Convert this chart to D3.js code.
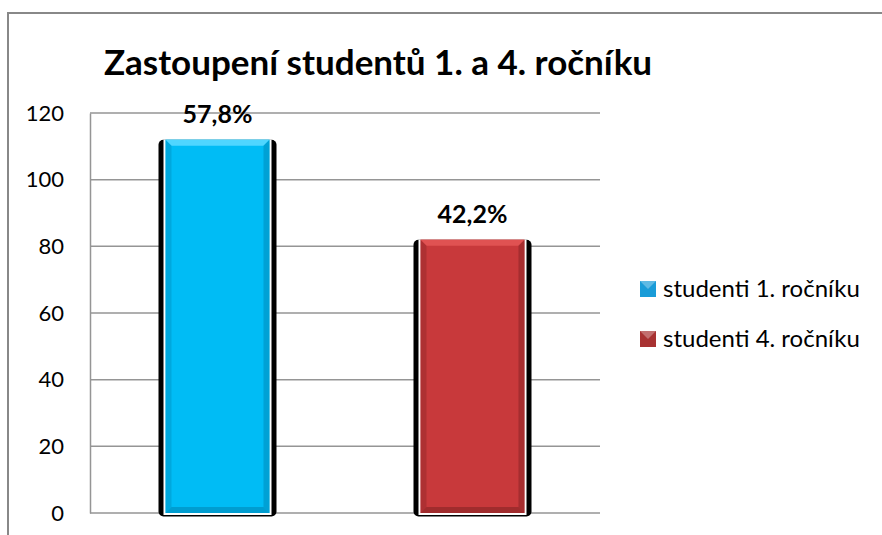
<!DOCTYPE html>
<html><head><meta charset="utf-8">
<script src="https://cdn.jsdelivr.net/npm/d3@7"></script>
<style>body{margin:0;background:#fff}svg{display:block}</style>
</head><body>
<script>
const categories = ["studenti 1. ročníku", "studenti 4. ročníku"];
const values = [112, 82];
const labels = ["57,8%", "42,2%"];
const yTicks = [0, 20, 40, 60, 80, 100, 120];
const colors = ["#00BCF5", "#C8393B"];
const topColors = ["#4FD6FF", "#E05252"];
const darkColors = ["#0090C0", "#8E2628"];
const legendColors = ["#1A9CD8", "#A83232"];

const W = 882, H = 535;
const font = "Lato, 'Open Sans', sans-serif";
const svg = d3.select("body").append("svg").attr("width", W).attr("height", H);

// outer frame
svg.append("rect").attr("x", 8).attr("y", 13).attr("width", W + 20).attr("height", H + 20)
  .attr("fill", "#fff").attr("stroke", "#888").attr("stroke-width", 2);

const plot = {l: 90, r: 600, t: 113, b: 513};
const x = d3.scaleBand().domain(categories).range([plot.l, plot.r]);
const y = d3.scaleLinear().domain([0, 120]).range([plot.b, plot.t]);

// gridlines
svg.append("g").selectAll("line").data(yTicks).join("line")
  .attr("x1", plot.l).attr("x2", plot.r)
  .attr("y1", d => y(d)).attr("y2", d => y(d))
  .attr("stroke", "#959595").attr("stroke-width", 1.5);

// y axis
const yAxis = d3.axisLeft(y).tickValues(yTicks).tickSize(0).tickPadding(26);
const ga = svg.append("g").attr("transform", `translate(${plot.l},0)`).call(yAxis);
ga.select(".domain").attr("stroke", "#959595").attr("stroke-width", 1.5);
ga.selectAll("text").attr("font-family", font).attr("font-size", 22).attr("fill", "#000");

// bars
const bw = 104, bev = 6;
const g = svg.append("g");
categories.forEach((c, i) => {
  const cx = x(c) + x.bandwidth() / 2;
  const x0 = cx - bw / 2, x1 = cx + bw / 2;
  const y0 = y(values[i]), y1 = y(0);
  g.append("rect").attr("x", x0 - 7).attr("y", y0).attr("width", bw + 14).attr("height", y1 - y0 + 3.5)
    .attr("rx", 5).attr("fill", "#000");
  g.append("rect").attr("x", x0 - 2).attr("y", y0).attr("width", bw + 4).attr("height", y1 - y0 + 2)
    .attr("fill", "#fff");
  g.append("rect").attr("x", x0).attr("y", y0).attr("width", bw).attr("height", y1 - y0)
    .attr("fill", colors[i]);
  const pts = (arr) => arr.map(p => p.join(",")).join(" ");
  g.append("polygon").attr("points", pts([[x0, y0], [x1, y0], [x1 - bev, y0 + bev], [x0 + bev, y0 + bev]]))
    .attr("fill", topColors[i]);
  g.append("polygon").attr("points", pts([[x0, y0], [x0 + bev, y0 + bev], [x0 + bev, y1 - bev], [x0, y1]]))
    .attr("fill", darkColors[i]).attr("opacity", 0.45);
  g.append("polygon").attr("points", pts([[x1, y0], [x1 - bev, y0 + bev], [x1 - bev, y1 - bev], [x1, y1]]))
    .attr("fill", darkColors[i]).attr("opacity", 0.6);
  g.append("polygon").attr("points", pts([[x0, y1], [x0 + bev, y1 - bev], [x1 - bev, y1 - bev], [x1, y1]]))
    .attr("fill", darkColors[i]).attr("opacity", 0.7);
  g.append("text").attr("x", cx).attr("y", y0 - 17).attr("text-anchor", "middle")
    .attr("font-family", font).attr("font-weight", "bold").attr("font-size", 25).text(labels[i]);
});

// title
svg.append("text").attr("x", 378).attr("y", 75).attr("text-anchor", "middle")
  .attr("font-family", font).attr("font-weight", "bold").attr("font-size", 35)
  .text("Zastoupení studentů 1. a 4. ročníku");

// legend
const lg = svg.append("g");
categories.forEach((c, i) => {
  const ly = 289 + i * 50;
  lg.append("rect").attr("x", 640).attr("y", ly - 8).attr("width", 16).attr("height", 16)
    .attr("fill", legendColors[i]);
  lg.append("polygon").attr("points", `640,${ly-8} 656,${ly-8} 648,${ly}`).attr("fill", "#fff").attr("opacity", 0.3);
  lg.append("text").attr("x", 663).attr("y", ly + 8)
    .attr("font-family", font).attr("font-size", 24).text(c);
});
</script>
</body></html>
